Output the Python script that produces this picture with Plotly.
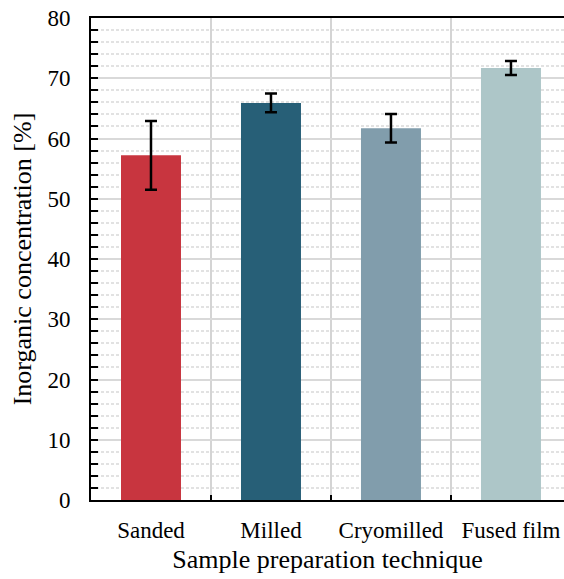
import plotly.graph_objects as go

categories = ["Sanded", "Milled", "Cryomilled", "Fused film"]
values = [57.2, 65.9, 61.7, 71.7]
errors = [5.7, 1.55, 2.35, 1.15]
colors = ["#C8353F", "#275F77", "#819DAC", "#ADC6C8"]
y_ticks = [0, 10, 20, 30, 40, 50, 60, 70, 80]

FONT = "Liberation Serif"

fig = go.Figure()
fig.add_trace(go.Bar(
    x=categories, y=values, width=0.5,
    marker=dict(color=colors, line=dict(width=0)),
    error_y=dict(type="data", array=errors, visible=True,
                 color="black", thickness=2.5, width=6),
))

fig.update_layout(
    width=564, height=579,
    margin=dict(l=91, r=0, t=18, b=79),
    plot_bgcolor="white", paper_bgcolor="white",
    font=dict(family=FONT, size=23, color="black"),
    showlegend=False,
)
fig.update_xaxes(
    type="category", range=[-0.5, 3.442], automargin=False,
    tickson="boundaries", ticks="inside", ticklen=5, tickwidth=2, tickcolor="black",
    showline=True, linecolor="black", linewidth=2, mirror=True,
    showgrid=True, gridcolor="#d4d4d4", gridwidth=2,
    tickfont=dict(family=FONT, size=23),
    ticklabelstandoff=8, ticklabeloverflow="allow",
    title=dict(text="Sample preparation technique", font=dict(family=FONT, size=26), standoff=8),
)
fig.update_yaxes(
    range=[0, 80], tickvals=y_ticks, automargin=False,
    ticks="inside", ticklen=7, tickwidth=2, tickcolor="black",
    showline=True, linecolor="black", linewidth=2, mirror=False,
    showgrid=True, gridcolor="#d9d9d9", gridwidth=1.5,
    zeroline=False,
    minor=dict(dtick=2, ticks="inside", ticklen=7, tickwidth=2, tickcolor="black",
               showgrid=True, gridcolor="#e2e2e2", griddash="3px,2px", gridwidth=1.5),
    tickfont=dict(family=FONT, size=23),
    ticklabelstandoff=14, ticklabeloverflow="allow",
    title=dict(text="Inorganic concentration [%]", font=dict(family=FONT, size=26), standoff=8),
)

fig.write_html(
    "out.html",
    config={"displayModeBar": False},
    post_script="document.body.style.margin='0';document.body.style.overflow='hidden';",
)
